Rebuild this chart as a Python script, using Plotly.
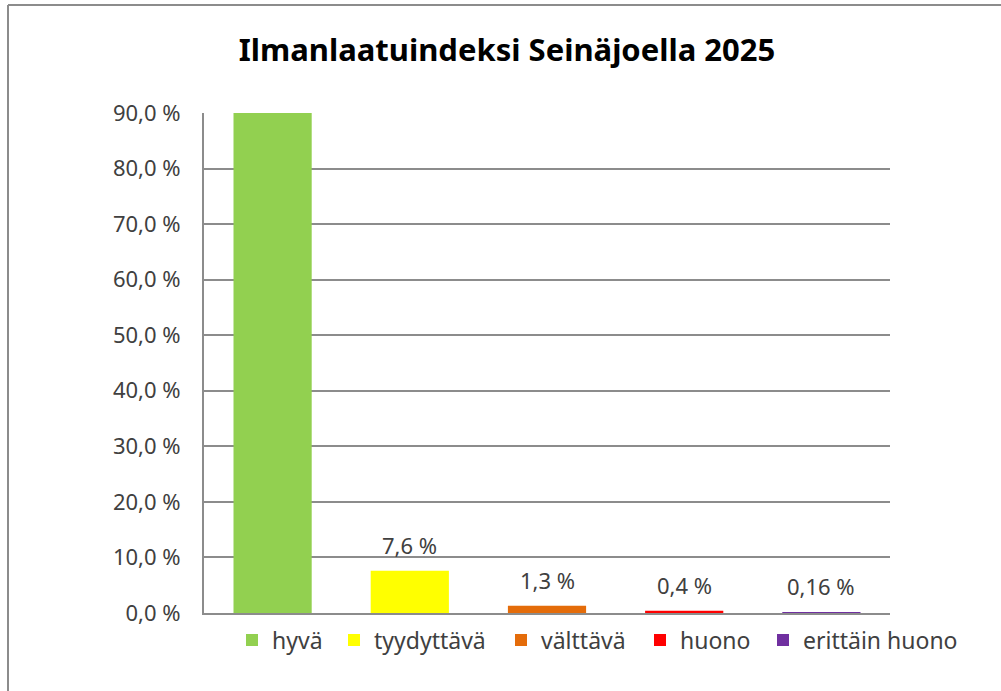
import plotly.graph_objects as go

categories = ["hyvä", "tyydyttävä", "välttävä", "huono", "erittäin huono"]
values = [90.5, 7.6, 1.3, 0.4, 0.16]
labels = ["", "7,6 %", "1,3 %", "0,4 %", "0,16 %"]
colors = ["#92D050", "#FFFF00", "#E46C0A", "#FF0000", "#7030A0"]
y_ticks = [0, 10, 20, 30, 40, 50, 60, 70, 80, 90]
y_tick_text = ["0,0 %", "10,0 %", "20,0 %", "30,0 %", "40,0 %", "50,0 %",
               "60,0 %", "70,0 %", "80,0 %", "90,0 %"]

FONT = "Noto Sans"
TXT = "#404040"

L, R, T, B = 204, 890, 113, 613
W, H = 1001, 691
pw, ph = R - L, B - T

def px(x):
    return (x - L) / pw

def py(y):
    return (B - y) / ph

# legend entry text start positions (pixels) as in the original layout
legend_text_x = [270, 372, 539, 678, 801]
legend_ids = ["legend", "legend2", "legend3", "legend4", "legend5"]

fig = go.Figure()
for cat, val, col, lid in zip(categories, values, colors, legend_ids):
    fig.add_trace(go.Bar(x=[cat], y=[val], name=cat, marker=dict(color=col, line=dict(width=0)),
                         width=0.57, hoverinfo="x+y", legend=lid))

for cat, val, lab in zip(categories, values, labels):
    if lab:
        fig.add_annotation(x=cat, y=val, text=lab, showarrow=False, yanchor="middle",
                           yshift=26, font=dict(family=FONT, size=22, color=TXT))

fig.add_shape(type="line", xref="paper", yref="paper", x0=px(8), x1=px(8), y0=py(5), y1=py(720),
              line=dict(color="#8c8c8c", width=2))
fig.add_shape(type="line", xref="paper", yref="paper", x0=px(8), x1=px(1030), y0=py(5), y1=py(5),
              line=dict(color="#8c8c8c", width=2))

legend_layout = {}
for lid, tx in zip(legend_ids, legend_text_x):
    legend_layout[lid] = dict(orientation="h", x=px(tx - 38), xanchor="left", y=py(640),
                              yanchor="middle", font=dict(family=FONT, size=23, color=TXT),
                              bgcolor="rgba(0,0,0,0)")

fig.update_layout(
    width=W, height=H,
    margin=dict(l=L, r=W - R, t=T, b=H - B),
    paper_bgcolor="white", plot_bgcolor="white",
    barmode="relative",
    title=dict(text="<b>Ilmanlaatuindeksi Seinäjoella 2025</b>", x=507 / W, xanchor="center",
               y=1 - 50 / H, yanchor="middle",
               font=dict(family=FONT, size=31, color="black")),
    showlegend=True,
    font=dict(family=FONT, color=TXT),
    **legend_layout,
)
fig.update_xaxes(showticklabels=False, showgrid=False, showline=True, linecolor="#8c8c8c",
                 linewidth=2, ticks="", zeroline=False, fixedrange=True)
fig.update_yaxes(range=[0, 90], tickvals=y_ticks, ticktext=y_tick_text, showgrid=True,
                 gridcolor="#8c8c8c", gridwidth=2, showline=True, linecolor="#8c8c8c", linewidth=2,
                 zeroline=False, ticks="", ticklabelstandoff=17,
                 tickfont=dict(family=FONT, size=22, color=TXT))

fig.write_html("out.html", config={"displayModeBar": False},
               post_script="document.body.style.margin='0';")
